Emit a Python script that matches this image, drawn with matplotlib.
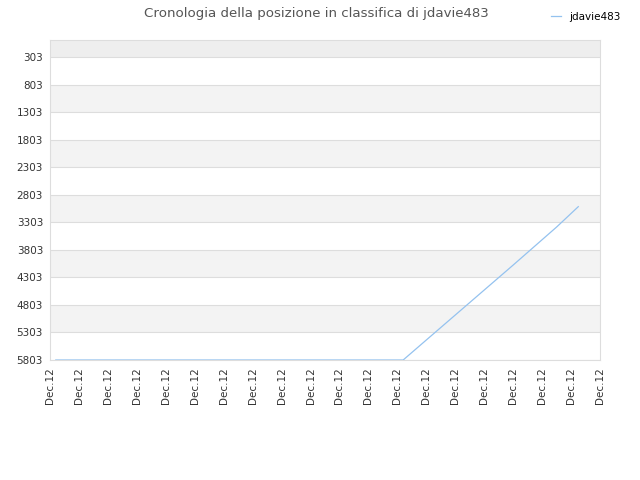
import numpy as np
import matplotlib.pyplot as plt

# rank history (x in tick-index units, y = position)
pos_x = [0.2, 4.0, 8.0, 12.2, 13.0, 14.5, 16.0, 17.5, 18.25]
pos_y = [5803, 5803, 5803, 5803, 5440, 4760, 4080, 3390, 3020]
ytick_vals = [303, 803, 1303, 1803, 2303, 2803, 3303, 3803, 4303, 4803, 5303, 5803]
xtick_labels = ["Dec.12"] * 20
series_name = "jdavie483"

fig = plt.figure(figsize=(6.4, 4.8), dpi=100)
ax = fig.add_axes([50/640, 120/480, 550/640, 320/480])

ax.set_xlim(0, 19)
ax.set_ylim(5803, -5)

# alternating bands
ax.axhspan(-5, 303, color="#eeeeee", zorder=0, lw=0)
for i in range(len(ytick_vals) - 1):
    if i % 2 == 1:
        ax.axhspan(ytick_vals[i], ytick_vals[i+1], color="#f3f3f3", zorder=0, lw=0)
for v in ytick_vals:
    ax.axhline(v, color="#dddddd", lw=0.8, zorder=1)

ax.plot(pos_x, pos_y, color="#94c2ef", lw=0.9, zorder=3, label=series_name)

ax.set_yticks(ytick_vals)
ax.set_yticklabels([str(v) for v in ytick_vals])
ax.set_xticks(range(len(xtick_labels)))
ax.set_xticklabels(xtick_labels, rotation=90)
ax.tick_params(length=0, labelsize=7.5, colors="#333333", pad=5)

for s in ax.spines.values():
    s.set_color("#dddddd")
    s.set_linewidth(0.8)

fig.suptitle("Cronologia della posizione in classifica di jdavie483",
             x=0.495, y=0.985, fontsize=9.6, color="#555555")
fig.legend(loc="upper right", bbox_to_anchor=(0.985, 0.995), frameon=False,
           fontsize=7.5, handlelength=1.0, handletextpad=0.8)

fig.savefig("out.png", dpi=100)
